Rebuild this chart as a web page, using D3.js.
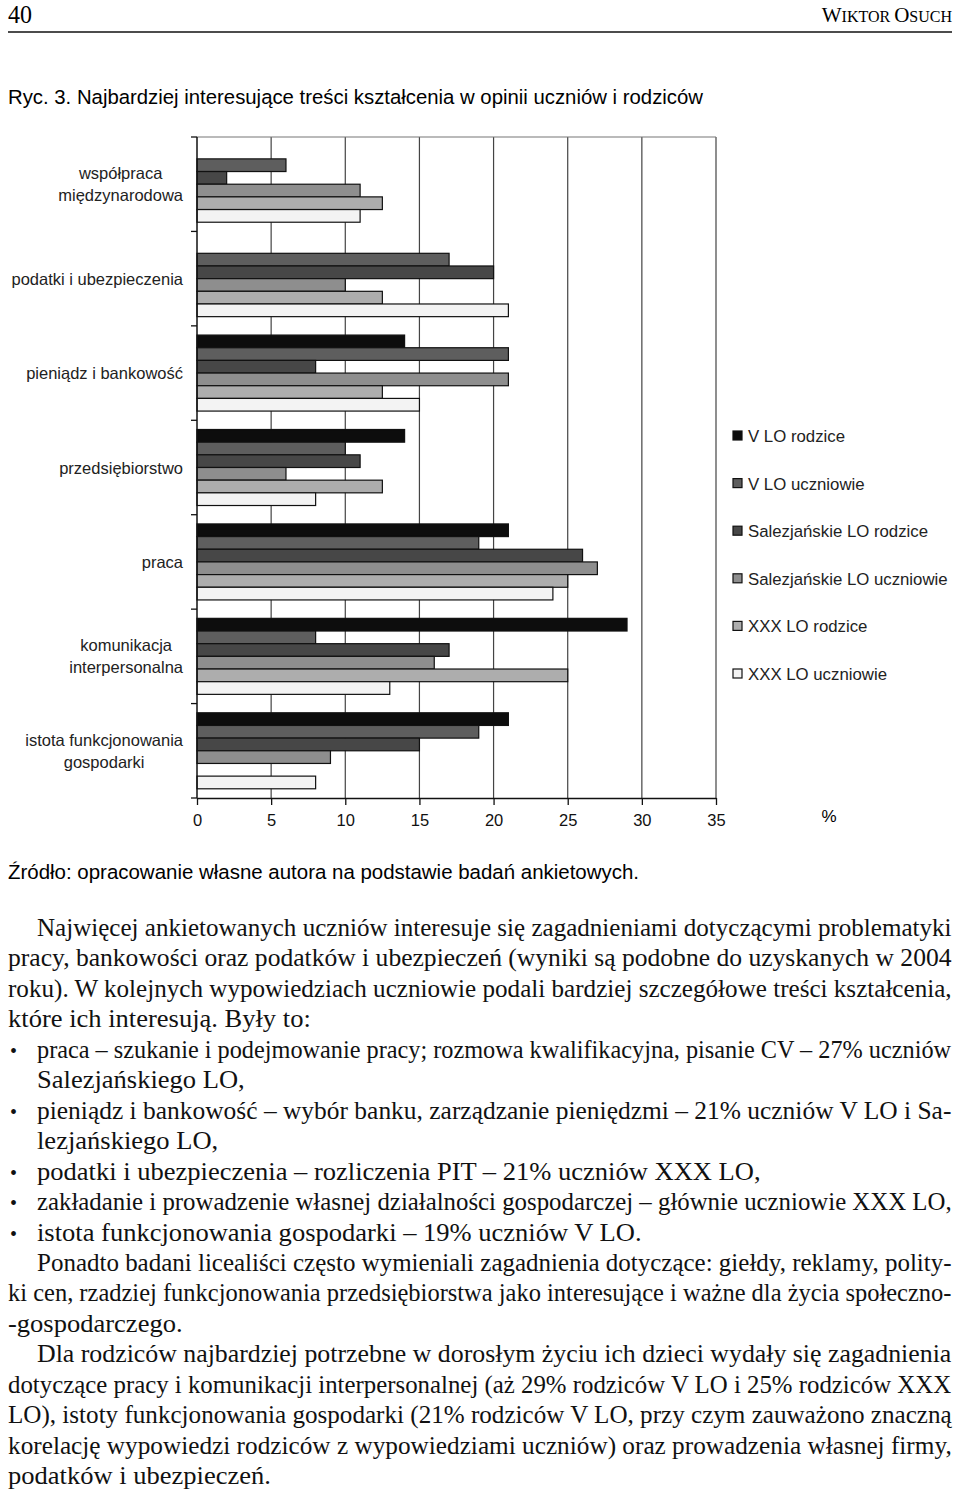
<!DOCTYPE html>
<html>
  <head>
    <meta charset="utf-8">
    <title>Ryc. 3</title>
    <style>
      body {margin:0; background:#fff;}
      svg {display:block;}
      .sans {font-family:"Liberation Sans", Arial, sans-serif;}
      .serif {font-family:"Liberation Serif", "Times New Roman", Times, serif;}
      .axis text {font-family:"Liberation Sans", Arial, sans-serif; font-size:16.5px; fill:#111;}
      .axis path, .axis line {fill:none; stroke:#111; stroke-width:1.3px;}
    </style>
    <script src="https://cdn.jsdelivr.net/npm/d3@7"></script>
  </head>
  <body>
    <svg id="page" width="960" height="1493"></svg>
    <script>
      // dane (%)
      var categories   = ["współpraca\nmiędzynarodowa", "podatki i ubezpieczenia", "pieniądz i bankowość",
                          "przedsiębiorstwo", "praca", "komunikacja\ninterpersonalna", "istota funkcjonowania\ngospodarki"];
      var seriesNames  = ["V LO rodzice", "V LO uczniowie", "Salezjańskie LO rodzice",
                          "Salezjańskie LO uczniowie", "XXX LO rodzice", "XXX LO uczniowie"];
      var vloRodzice   = [0, 0, 14, 14, 21, 29, 21];
      var vloUczniowie = [6, 17, 21, 10, 19, 8, 19];
      var salRodzice   = [2, 20, 8, 11, 26, 17, 15];
      var salUczniowie = [11, 10, 21, 6, 27, 16, 9];
      var xxxRodzice   = [12.5, 12.5, 12.5, 12.5, 25, 25, 0];
      var xxxUczniowie = [11, 21, 15, 8, 24, 13, 8];
      var xTicks       = [0, 5, 10, 15, 20, 25, 30, 35];
      var barColor     = ["#0d0d0d", "#5e5e5e", "#474747", "#8e8e8e", "#adadad", "#f3f3f3"];

      var allSeries = [vloRodzice, vloUczniowie, salRodzice, salUczniowie, xxxRodzice, xxxUczniowie];

      var svg = d3.select("#page");

      // --- nagłówek strony ---
      svg.append("text").attr("class","serif").attr("x",8).attr("y",23)
         .style("font-size","26px").attr("textLength",24).attr("lengthAdjust","spacingAndGlyphs").text("40");
      var hdr = svg.append("text").attr("class","serif").attr("x",952).attr("y",22)
         .attr("text-anchor","end").style("font-size","21px");
      hdr.append("tspan").text("W");
      hdr.append("tspan").style("font-size","16px").text("IKTOR ");
      hdr.append("tspan").text("O");
      hdr.append("tspan").style("font-size","16px").text("SUCH");
      svg.append("line").attr("x1",8).attr("x2",952).attr("y1",32).attr("y2",32)
         .style("stroke","#111").style("stroke-width",1.6);

      svg.append("text").attr("class","sans").attr("x",8).attr("y",104)
         .style("font-size","20.5px").attr("textLength",695).attr("lengthAdjust","spacingAndGlyphs")
         .text("Ryc. 3. Najbardziej interesujące treści kształcenia w opinii uczniów i rodziców");

      // --- wykres ---
      var plot = {left:197, right:716, top:137, bottom:798};

      var x = d3.scaleLinear().domain([0, 35]).range([plot.left, plot.right]);
      var y = d3.scaleBand().domain(categories).range([plot.top, plot.bottom])
                .paddingInner(0.195).paddingOuter(0.0975);
      var ys = d3.scaleBand().domain(d3.range(seriesNames.length)).range([0, y.bandwidth()]);

      var g = svg.append("g");

      // siatka pionowa
      g.selectAll("line.grid")
       .data(xTicks.slice(1))
       .enter().append("line")
       .attr("class","grid")
       .attr("x1",function(d){return x(d);}).attr("x2",function(d){return x(d);})
       .attr("y1",plot.top).attr("y2",plot.bottom)
       .style("stroke","#444").style("stroke-width",1.2);
      g.append("line").attr("x1",plot.left).attr("x2",plot.right)
       .attr("y1",plot.top).attr("y2",plot.top)
       .style("stroke","#777").style("stroke-width",1.2);

      // słupki
      var groups = g.selectAll("g.cat")
                    .data(categories)
                    .enter().append("g")
                    .attr("transform",function(d){return "translate(0," + y(d) + ")";});
      groups.selectAll("rect")
            .data(function(d,ci){return allSeries.map(function(s,si){return {s:si, v:s[ci]};});})
            .enter().append("rect")
            .filter(function(d){return d.v > 0;})
            .attr("x",x(0))
            .attr("y",function(d){return ys(d.s);})
            .attr("width",function(d){return x(d.v) - x(0);})
            .attr("height",ys.bandwidth())
            .style("fill",function(d){return barColor[d.s];})
            .style("stroke","#111").style("stroke-width",1.2);

      // osie
      g.append("g").attr("class","axis")
       .attr("transform","translate(0," + plot.bottom + ")")
       .call(d3.axisBottom(x).tickValues(xTicks).tickSize(7).tickPadding(9).tickSizeOuter(0));
      var bounds = d3.range(categories.length + 1).map(function(i){
        return plot.top + y.step()*y.paddingOuter() - y.step()*y.paddingInner()/2 + i*y.step();
      });
      g.append("line").attr("x1",plot.left).attr("x2",plot.left)
       .attr("y1",plot.top).attr("y2",plot.bottom)
       .style("stroke","#111").style("stroke-width",1.5);
      g.selectAll("line.ytick")
       .data(bounds)
       .enter().append("line")
       .attr("class","ytick")
       .attr("x1",plot.left-6).attr("x2",plot.left)
       .attr("y1",function(d){return d;}).attr("y2",function(d){return d;})
       .style("stroke","#111").style("stroke-width",1.3);

      svg.append("text").attr("class","sans").attr("x",829).attr("y",822)
         .attr("text-anchor","middle").style("font-size","17px").text("%");

      // etykiety kategorii (wyśrodkowane w bloku, blok do prawej)
      var labelRight = 183;
      categories.forEach(function(c){
        var lines = c.split("\n");
        var cy = y(c) + y.bandwidth()/2;
        var lg = svg.append("g");
        var t = lg.selectAll("text").data(lines).enter().append("text")
                  .attr("class","sans").style("font-size","16.5px").style("fill","#222")
                  .attr("text-anchor","middle")
                  .attr("y",function(d,i){return cy + 6 + (i - (lines.length-1)/2)*22;})
                  .text(function(d){return d;});
        var w = d3.max(t.nodes(), function(n){return n.getComputedTextLength();});
        t.attr("x", labelRight - w/2);
      });

      // legenda
      var legend = svg.selectAll("g.leg")
                      .data(seriesNames)
                      .enter().append("g")
                      .attr("transform",function(d,i){return "translate(733," + (436 + i*47.6) + ")";});
      legend.append("rect").attr("x",0).attr("y",-5).attr("width",9).attr("height",9)
            .style("fill",function(d,i){return barColor[i];})
            .style("stroke","#111").style("stroke-width",1.2);
      legend.append("text").attr("class","sans").attr("x",15).attr("y",6)
            .style("font-size","16.8px").style("fill","#222")
            .text(function(d){return d;});

      svg.append("text").attr("class","sans").attr("x",8).attr("y",879)
         .style("font-size","20.5px").attr("textLength",631).attr("lengthAdjust","spacingAndGlyphs")
         .text("Źródło: opracowanie własne autora na podstawie badań ankietowych.");

      // --- tekst pod rycina ---
      // [tekst, wcięcie (0 zwykły, 1 akapit, 2 punktor), wyjustowany]
      var bodyLines = [
        ["Najwięcej ankietowanych uczniów interesuje się zagadnieniami dotyczącymi problematyki", 1, true],
        ["pracy, bankowości oraz podatków i ubezpieczeń (wyniki są podobne do uzyskanych w 2004", 0, true],
        ["roku). W kolejnych wypowiedziach uczniowie podali bardziej szczegółowe treści kształcenia,", 0, true],
        ["które ich interesują. Były to:", 0, false],
        ["praca – szukanie i podejmowanie pracy; rozmowa kwalifikacyjna, pisanie CV – 27% uczniów", 2, true],
        ["Salezjańskiego LO,", 1, false],
        ["pieniądz i bankowość – wybór banku, zarządzanie pieniędzmi – 21% uczniów V LO i Sa-", 2, true],
        ["lezjańskiego LO,", 1, false],
        ["podatki i ubezpieczenia – rozliczenia PIT – 21% uczniów XXX LO,", 2, false],
        ["zakładanie i prowadzenie własnej działalności gospodarczej – głównie uczniowie XXX LO,", 2, true],
        ["istota funkcjonowania gospodarki – 19% uczniów V LO.", 2, false],
        ["Ponadto badani licealiści często wymieniali zagadnienia dotyczące: giełdy, reklamy, polity-", 1, true],
        ["ki cen, rzadziej funkcjonowania przedsiębiorstwa jako interesujące i ważne dla życia społeczno-", 0, true],
        ["-gospodarczego.", 0, false],
        ["Dla rodziców najbardziej potrzebne w dorosłym życiu ich dzieci wydały się zagadnienia", 1, true],
        ["dotyczące pracy i komunikacji interpersonalnej (aż 29% rodziców V LO i 25% rodziców XXX", 0, true],
        ["LO), istoty funkcjonowania gospodarki (21% rodziców V LO, przy czym zauważono znaczną", 0, true],
        ["korelację wypowiedzi rodziców z wypowiedziami uczniów) oraz prowadzenia własnej firmy,", 0, true],
        ["podatków i ubezpieczeń.", 0, false]
      ];
      var textRight = 952;
      var body = svg.append("g").attr("class","serif").style("font-size","25px").style("fill","#111");

      // zwężenie czcionki wzięte z linii "które ich interesują. Były to:" (w oryginale ok. 303 px)
      var probe = body.append("text").text(bodyLines[3][0]);
      var squeeze = 303 / probe.node().getComputedTextLength();
      probe.remove();

      bodyLines.forEach(function(l, i){
        var by = 936 + i*30.45;
        var x0 = l[1] === 0 ? 8 : 37;
        if (l[1] === 2) {
          body.append("text").attr("x",10).attr("y",by).style("font-size","20px").text("•");
        }
        var t = body.append("text").text(l[0]);
        var sx = squeeze;
        if (l[2]) {
          // justowanie: linia za długa -> mocniej zwężona, za krótka -> szersze odstępy
          var natural = t.node().getComputedTextLength();
          var target  = textRight - x0;
          sx = Math.min(squeeze, target / natural);
          var spaces = l[0].split(" ").length - 1;
          var extra  = target / sx - natural;
          if (extra > 0.5) t.style("word-spacing", (extra / spaces) + "px");
        }
        t.attr("transform","translate(" + x0 + "," + by + ") scale(" + sx + ",1)");
      });
    </script>
  </body>
</html>
